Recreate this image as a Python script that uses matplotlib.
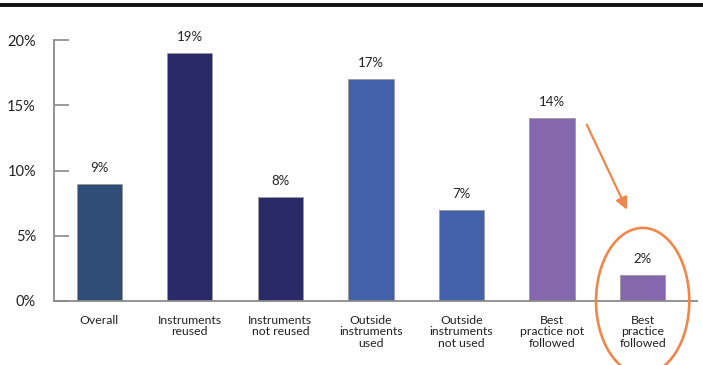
import matplotlib
matplotlib.use('Agg')
import matplotlib.pyplot as plt
from matplotlib.patches import Ellipse
import numpy as np

categories = ['Overall', 'Instruments\nreused', 'Instruments\nnot reused', 'Outside\ninstruments\nused',
              'Outside\ninstruments\nnot used', 'Best\npractice not\nfollowed', 'Best\npractice\nfollowed']
values = [9, 19, 8, 17, 7, 14, 2]
bar_colors = ['#2f4d76', '#2b2a69', '#2b2a69', '#4261aa', '#4261aa', '#8467ad', '#8467ad']
yticks = [0, 5, 10, 15, 20]
ytick_labels = ['0%', '5%', '10%', '15%', '20%']

plt.rcParams['font.family'] = ['Lato', 'DejaVu Sans']

fig = plt.figure(figsize=(7.03, 3.65), dpi=100)
# thick rule at the top
fig.add_artist(plt.Line2D([0, 1], [0.986, 0.986], color='#111111', lw=2.8))

ax = fig.add_axes([54/703, 64/365, (697-54)/703, 261/365])
x = np.arange(len(values))
ax.bar(x, values, width=0.5, color=bar_colors, edgecolor='#9a9a9a', linewidth=0.6, zorder=2)

for xi, v in zip(x, values):
    ax.annotate(f'{v}%', (xi, v), xytext=(0, 11.5), textcoords='offset points',
                ha='center', va='center', fontsize=9.5, color='#222222')

ax.set_xlim(-0.5, 6.6)
ax.set_ylim(0, 20)
ax.set_yticks(yticks)
ax.set_yticklabels(ytick_labels, fontsize=10.5, color='#222222')
ax.set_xticks(x)
ax.set_xticklabels(categories, fontsize=8.8, color='#222222', linespacing=1.05, va='top')
ax.tick_params(axis='x', length=0, pad=10)
ax.tick_params(axis='y', direction='in', length=11, width=1.2, color='#8a8a8a', pad=13)
for s in ['top', 'right']:
    ax.spines[s].set_visible(False)
for s in ['left', 'bottom']:
    ax.spines[s].set_color('#8a8a8a')
    ax.spines[s].set_linewidth(1.3)

# orange highlight
orange = '#f0874a'
ax.annotate('', xy=(5.84, 6.8), xytext=(5.37, 13.7),
            arrowprops=dict(arrowstyle='-|>', color=orange, lw=1.6, mutation_scale=18))
ell = Ellipse((6.0, 0.0), width=1.03, height=11.2, fill=False, edgecolor=orange, lw=1.9,
              clip_on=False, zorder=5)
ax.add_patch(ell)

fig.savefig('out.png', dpi=100)
